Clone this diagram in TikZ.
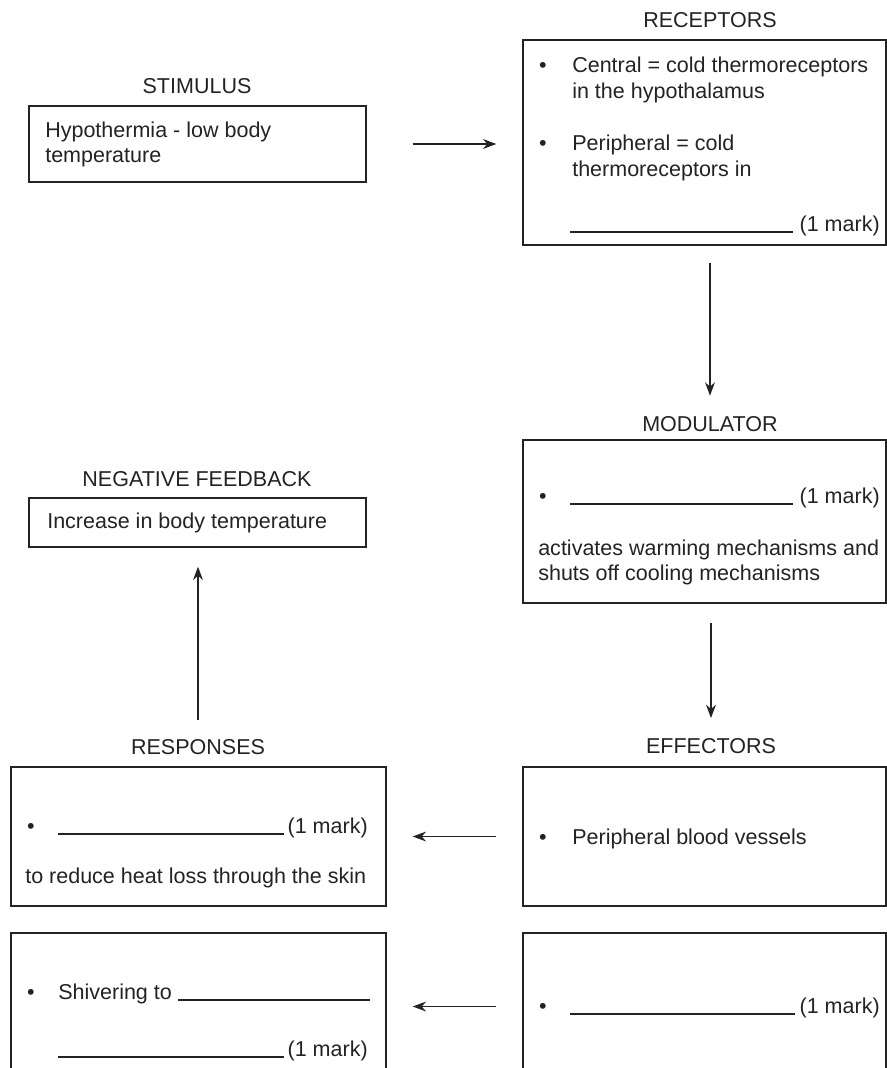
\documentclass[tikz,border=0pt]{standalone}
\usepackage{fontspec}
\setmainfont{Liberation Sans}
\usepackage{xcolor}
\definecolor{ink}{RGB}{35, 35, 35}
\usepackage{tikz}
\usetikzlibrary{arrows.meta, positioning}
\newcommand{\diagfont}{\fontsize{15.3}{17}\selectfont}
\tikzset{
  widebox/.style={draw=ink, line width=0.9pt, inner sep=0pt,
    minimum width=9.075cm},
  leftbox/.style={draw=ink, line width=0.9pt, inner sep=0pt,
    minimum width=8.425cm},
  respbox/.style={draw=ink, line width=0.9pt, inner sep=0pt,
    minimum width=9.375cm},
  heading/.style={anchor=base, inner sep=0pt, font=\diagfont, text=ink},
  txtline/.style={anchor=base west, inner sep=0pt, font=\diagfont, text=ink},
  markr/.style={anchor=base east, inner sep=0pt, font=\diagfont, text=ink},
  dotb/.style={anchor=base, inner sep=0pt, font=\diagfont, text=ink},
  blank/.style={draw=ink, line width=0.75pt},
  mainarrow/.style={-{Stealth[length=9.5pt, width=7pt]}, line width=1pt, draw=ink}
}

\begin{document}
\begin{tikzpicture}[x=0.025cm, y=-0.025cm]

  \useasboundingbox (0,0) rectangle (887,1068);
  \clip (0,0) rectangle (887,1068);

  % boxes
  \node[leftbox, minimum height=1.9cm]   (stim)  at (197.5,144)  {};
  \node[widebox, minimum height=5.125cm] (rec)   at (704.5,142.5) {};
  \node[widebox, minimum height=4.075cm] (mod)   at (704.5,521.5) {};
  \node[leftbox, minimum height=1.225cm] (nf)    at (197.5,522.5) {};
  \node[widebox, minimum height=3.475cm] (eff1)  at (704.5,836.5) {};
  \node[widebox, minimum height=3.675cm] (eff2)  at (704.5,1006.5) {};
  \node[respbox, minimum height=3.475cm] (resp1) at (198.5,836.5) {};
  \node[respbox, minimum height=3.675cm] (resp2) at (198.5,1006.5) {};

  % headings
  \node[heading] (stimttl) at (197,93)  {STIMULUS};
  \node[heading] (recttl)  at (710,27)  {RECEPTORS};
  \node[heading] (modttl)  at (710,431) {MODULATOR};
  \node[heading] (nfttl)   at (197,486) {NEGATIVE FEEDBACK};
  \node[heading] (respttl) at (198,754) {RESPONSES};
  \node[heading] (effttl)  at (711,753) {EFFECTORS};

  % stimulus
  \node[txtline] (stim1) at (45,137) {Hypothermia - low body};
  \node[txtline] (stim2) at (45,162) {temperature};

  % receptors
  \node[dotb]    (recb1) at (543,72)  {•};
  \node[txtline] (rec1)  at (572,72)  {Central = cold thermoreceptors};
  \node[txtline] (rec2)  at (572,98)  {in the hypothalamus};
  \node[dotb]    (recb2) at (543,150) {•};
  \node[txtline] (rec3)  at (572,150) {Peripheral = cold};
  \node[txtline] (rec4)  at (572,176) {thermoreceptors in};
  \node[markr]   (recmk) at (880,231) {(1 mark)};
  \draw[blank] (570,232) -- (793,232);

  % modulator
  \node[dotb]    (modb)  at (543,503) {•};
  \node[markr]   (modmk) at (880,503) {(1 mark)};
  \draw[blank] (570,504) -- (793,504);
  \node[txtline] (mod1)  at (538,555) {activates warming mechanisms and};
  \node[txtline] (mod2)  at (538,580) {shuts off cooling mechanisms};

  % negative feedback
  \node[txtline] (nf1) at (47,528) {Increase in body temperature};

  % effectors
  \node[dotb]    (effb1) at (543,844)  {•};
  \node[txtline] (efft1) at (572,844)  {Peripheral blood vessels};
  \node[dotb]    (effb2) at (543,1013) {•};
  \node[markr]   (effmk) at (880,1013) {(1 mark)};
  \draw[blank] (570,1014) -- (795,1014);

  % responses
  \node[dotb]    (respb1) at (31,833)  {•};
  \node[markr]   (respmk1) at (368,833) {(1 mark)};
  \draw[blank] (58,834) -- (284,834);
  \node[txtline] (respt1) at (25,883)  {to reduce heat loss through the skin};
  \node[dotb]    (respb2) at (31,999)  {•};
  \node[txtline] (respt2) at (58,999)  {Shivering to};
  \draw[blank] (178,1000) -- (370,1000);
  \node[markr]   (respmk2) at (368,1056) {(1 mark)};
  \draw[blank] (58,1057) -- (284,1057);

  % arrows
  \draw[mainarrow, shorten <=1.15cm, shorten >=0.65cm] (stim.east) -- (stim.east -| rec.west);
  \draw[mainarrow, shorten <=0.425cm, shorten >=0.5cm] (rec.south -| modttl.north) -- (modttl.north);
  \draw[mainarrow, shorten <=0.475cm, shorten >=0.49cm] (mod.south -| effttl.north) -- (effttl.north);
  \draw[mainarrow, shorten <=0.465cm, shorten >=0.475cm] (respttl.north) -- (respttl.north |- nf.south);
  \draw[mainarrow, shorten <=0.65cm, shorten >=0.65cm] (eff1.west) -- (eff1.west -| resp1.east);
  \draw[mainarrow, shorten <=0.65cm, shorten >=0.65cm] (eff2.west) -- (eff2.west -| resp2.east);

\end{tikzpicture}
\end{document}
